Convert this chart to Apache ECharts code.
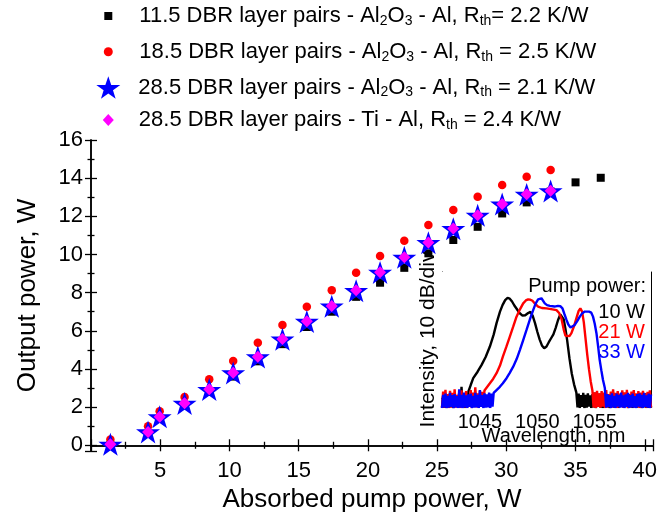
<!DOCTYPE html>
<html>
<head>
<meta charset="utf-8">
<script src="https://cdn.jsdelivr.net/npm/echarts@6/dist/echarts.min.js"></script>
<style>html,body{margin:0;padding:0;background:#fff}#c{width:660px;height:525px}</style>
</head>
<body>
<div id="c"></div>
<script>
// ---------- main plot data ----------
var seriesNames = [
  '11.5 DBR layer pairs - Al2O3 - Al, Rth= 2.2 K/W',
  '18.5 DBR layer pairs - Al2O3 - Al, Rth = 2.5 K/W',
  '28.5 DBR layer pairs - Al2O3 - Al, Rth = 2.1 K/W',
  '28.5 DBR layer pairs - Ti - Al, Rth = 2.4 K/W'
];
var legendLabels = [
  '11.5 DBR layer pairs - Al{s|2}O{s|3} - Al, R{s|th}= 2.2 K/W',
  '18.5 DBR layer pairs - Al{s|2}O{s|3} - Al, R{s|th} = 2.5 K/W',
  '28.5 DBR layer pairs - Al{s|2}O{s|3} - Al, R{s|th} = 2.1 K/W',
  '28.5 DBR layer pairs - Ti - Al, R{s|th} = 2.4 K/W'
];
var absorbedPump = [1.4, 4.12, 4.96, 6.76, 8.54, 10.27, 12.05, 13.83, 15.59, 17.39, 19.15, 20.88, 22.63, 24.37, 26.17, 27.93, 29.7, 31.47, 33.2];
var absorbedPumpBlack = [1.4, 4.12, 4.96, 6.76, 8.54, 10.27, 12.05, 13.83, 15.59, 17.39, 19.15, 20.88, 22.63, 24.37, 26.17, 27.93, 29.7, 31.47, 33.2, 35.0, 36.82];
var power115 = [0.0, 0.6, 1.4, 2.1, 2.8, 3.6, 4.4, 5.3, 6.2, 7.0, 7.78, 8.52, 9.30, 10.06, 10.76, 11.45, 12.15, 12.73, 13.3, 13.78, 14.02];
var power185 = [0.3, 1.0, 1.78, 2.53, 3.46, 4.42, 5.37, 6.30, 7.26, 8.13, 9.04, 9.92, 10.72, 11.54, 12.33, 13.03, 13.64, 14.08, 14.43];
var power285 = [0.05, 0.70, 1.49, 2.19, 2.92, 3.79, 4.63, 5.56, 6.49, 7.29, 8.10, 9.06, 9.85, 10.62, 11.35, 12.05, 12.64, 13.15, 13.33];
var power285Ti = [0.05, 0.70, 1.50, 2.20, 2.93, 3.80, 4.64, 5.57, 6.50, 7.30, 8.12, 9.07, 9.86, 10.63, 11.36, 12.06, 12.65, 13.16, 13.34];
var xTickLabels = ['5', '10', '15', '20', '25', '30', '35', '40'];
var yTickLabels = ['0', '2', '4', '6', '8', '10', '12', '14', '16'];

// ---------- inset spectra (wavelength nm, intensity dB) ----------
var spectrumNames = ['10 W', '21 W', '33 W'];
var noiseStep = 0.1;
var blackNoiseLStart = 1041.7;
var blackNoiseL = [-2.7,0.6,-2.4,1.0,-2.8,0.4,-2.5,1.3,-2.6,0.8,-2.9,1.1,-2.5,0.7,-2.7,1.5,-2.4,3.1,-2.6,1.2,-2.8,0.9,-2.3];
var blackSignal = [[1044.0,1.8],[1044.2,3.6],[1044.42,5.5],[1044.8,7.3],[1045.15,9.2],[1045.5,11.4],[1045.87,14.3],[1046.2,17.6],[1046.45,20.8],[1046.75,24.0],[1046.97,25.8],[1047.2,27.2],[1047.41,27.8],[1047.6,27.6],[1047.8,26.8],[1048.0,25.7],[1048.2,24.8],[1048.45,23.6],[1048.71,22.9],[1048.95,23.0],[1049.2,23.6],[1049.4,23.9],[1049.6,22.8],[1049.8,20.8],[1050.0,18.4],[1050.2,16.3],[1050.4,14.6],[1050.6,13.8],[1050.8,14.3],[1051.0,15.5],[1051.2,16.6],[1051.4,17.7],[1051.6,19.5],[1051.8,21.6],[1052.0,23.2],[1052.15,23.2],[1052.3,21.8],[1052.45,19.2],[1052.6,16.0],[1052.8,11.0],[1053.0,6.8],[1053.2,3.8],[1053.4,1.5]];
var blackNoiseRStart = 1053.5;
var blackNoiseR = [-2.6,1.2,-2.8,0.8,-2.5,1.4,-2.9,0.9,-2.7,1.3,-2.4,0.7,-2.8,1.1,-2.6,1.5,-2.9,0.8,-2.5,1.2,-2.7,0.6,-2.8,1.3,-2.4,0.9,-2.6,1.1,-2.9,0.7,-2.5,1.4,-2.7,0.8,-2.6,1.2,-2.8,0.5,-2.4,1.0,-2.7,1.3,-2.5,0.9,-2.9,1.1,-2.6,0.7,-2.8,1.4,-2.5,0.8,-2.7,1.2,-2.4,0.6,-2.9,1.0,-2.6,1.3,-2.8,0.9,-2.5,1.1,-2.7];

var redNoiseLStart = 1041.7;
var redNoiseL = [-2.5,1.8,-2.7,2.3,-2.4,1.1,-2.8,2.0,-2.6,1.4,-2.3,2.4,-2.7,0.9,-2.5,1.6,-2.8,2.1,-2.4,1.2,-2.6,1.9,-2.7,0.8,-2.5,2.2,-2.8,1.5,-2.4,3.0,-2.6,1.3,-2.7,2.0,-2.5,1.7,-2.3,2.1];
var redSignal = [[1045.5,2.4],[1045.87,4.1],[1046.15,5.3],[1046.45,6.9],[1046.75,9.0],[1047.0,11.5],[1047.3,14.2],[1047.6,17.0],[1047.9,19.8],[1048.19,22.6],[1048.5,24.7],[1048.77,26.3],[1049.0,27.1],[1049.2,27.4],[1049.4,27.3],[1049.58,27.0],[1049.8,26.2],[1050.07,25.4],[1050.4,25.0],[1050.8,24.9],[1051.2,24.7],[1051.67,24.4],[1051.9,23.6],[1052.1,22.1],[1052.3,19.0],[1052.45,17.3],[1052.6,16.9],[1052.8,17.2],[1052.97,18.0],[1053.2,20.0],[1053.4,22.1],[1053.6,24.2],[1053.75,24.9],[1053.9,24.0],[1054.05,21.0],[1054.2,16.5],[1054.35,12.0],[1054.5,8.0],[1054.65,4.6],[1054.8,2.0]];
var redNoiseRStart = 1054.9;
var redNoiseR = [-2.6,1.6,-2.8,2.0,-2.5,1.3,-2.7,1.9,-2.4,1.5,-2.8,2.2,-2.6,1.1,-2.5,1.8,-2.7,2.4,-2.4,1.4,-2.8,1.9,-2.6,1.2,-2.5,2.1,-2.7,1.6,-2.4,2.3,-2.8,1.0,-2.6,1.8,-2.5,2.2,-2.7,1.3,-2.4,1.9,-2.8,1.5,-2.6,2.0,-2.5,1.2,-2.7,1.7,-2.4,2.1,-2.6];

var blueNoiseLStart = 1041.7;
var blueNoiseL = [-2.8,0.9,-2.6,1.2,-2.9,0.6,-2.7,1.4,-2.5,0.8,-2.9,1.1,-2.6,0.5,-2.8,2.4,-2.7,0.9,-2.9,1.5,-2.6,0.7,-2.8,1.0,-2.5,1.2,-2.9,0.6,-2.7,1.4,-2.6,0.9,-2.8,2.2,-2.5,0.8,-2.9,1.3,-2.7,1.0,-2.6,1.5,-2.8,1.2,-2.4];
var blueSignal = [[1046.2,1.4],[1046.45,2.2],[1046.74,3.1],[1047.0,4.1],[1047.32,5.5],[1047.6,7.0],[1047.9,8.7],[1048.2,10.8],[1048.48,13.3],[1048.75,15.9],[1049.06,18.9],[1049.35,21.8],[1049.64,24.4],[1049.85,26.2],[1050.07,27.4],[1050.36,27.7],[1050.65,26.3],[1050.85,25.8],[1051.09,25.6],[1051.5,25.4],[1051.8,25.6],[1052.0,25.5],[1052.19,24.9],[1052.35,23.4],[1052.54,21.7],[1052.7,20.4],[1052.89,19.6],[1053.05,19.7],[1053.26,20.3],[1053.5,21.5],[1053.7,22.6],[1053.9,23.5],[1054.13,24.0],[1054.5,24.0],[1054.7,23.7],[1054.85,22.6],[1055.0,20.6],[1055.15,18.0],[1055.3,14.2],[1055.43,10.6],[1055.58,7.6],[1055.72,5.0],[1055.88,2.8]];
var blueNoiseRStart = 1056.0;
var blueNoiseR = [-2.7,1.1,-2.5,0.8,-2.9,1.3,-2.6,0.6,-2.8,1.2,-2.4,0.9,-2.7,1.5,-2.6,0.7,-2.9,1.0,-2.5,1.4,-2.8,0.8,-2.6,1.2,-2.7,0.5,-2.9,1.1,-2.4,1.3,-2.6,0.9,-2.8,1.4,-2.5,0.7,-2.7,1.2,-2.9,1.0];

function pairs(xs, ys) { return ys.map(function (y, i) { return [xs[i], y]; }); }
function noiseSeg(start, vals) { return vals.map(function (v, i) { return [Math.round((start + i * noiseStep) * 100) / 100, v]; }); }
var blackSpec = noiseSeg(blackNoiseLStart, blackNoiseL).concat(blackSignal, noiseSeg(blackNoiseRStart, blackNoiseR));
var redSpec = noiseSeg(redNoiseLStart, redNoiseL).concat(redSignal, noiseSeg(redNoiseRStart, redNoiseR));
var blueSpec = noiseSeg(blueNoiseLStart, blueNoiseL).concat(blueSignal, noiseSeg(blueNoiseRStart, blueNoiseR));

var FONT = '"Liberation Sans", Arial, sans-serif';
var starPath = 'path://M50,0 L61.8,35.1 L98.1,35.1 L68.8,56.7 L79.4,91 L50,70 L20.6,91 L31.2,56.7 L1.9,35.1 L38.2,35.1 Z';

var chart = echarts.init(document.getElementById('c'), null, { renderer: 'canvas' });

function mainLegend(i, left, top, icon, w, h, pad) {
  return {
    data: [seriesNames[i]], orient: 'vertical', left: left, top: top, padding: 0,
    itemWidth: w, itemHeight: h, icon: icon,
    itemStyle: { opacity: 1 },
    formatter: function (n) { return '{g| }' + legendLabels[seriesNames.indexOf(n)]; },
    textStyle: { fontFamily: FONT, fontSize: 22, color: '#000', lineHeight: 24,
      rich: {
        g: { width: pad, fontSize: 22, lineHeight: 24 },
        s: { fontFamily: FONT, fontSize: 14, lineHeight: 11, verticalAlign: 'bottom', color: '#000' }
      } }
  };
}

var option = {
  animation: false,
  backgroundColor: '#fff',
  textStyle: { fontFamily: FONT },
  title: { text: 'Pump power:', right: 14, top: 276, padding: 0,
    textStyle: { fontFamily: FONT, fontSize: 20, fontWeight: 'normal', color: '#000' } },
  legend: [
    mainLegend(0, 104.3, 4, 'rect', 8, 8, 22),
    mainLegend(1, 103.8, 39.7, 'circle', 9, 9, 21.5),
    mainLegend(2, 96.3, 75.5, starPath, 24, 23, 13),
    mainLegend(3, 102.8, 108, 'diamond', 11, 12, 20),
    {
      data: [
        { name: spectrumNames[0], textStyle: { color: '#000' } },
        { name: spectrumNames[1], textStyle: { color: '#ff0000' } },
        { name: spectrumNames[2], textStyle: { color: '#0000ff' } }
      ],
      orient: 'vertical', right: 9, top: 302, padding: 0, itemGap: 0,
      itemWidth: 1, itemHeight: 1, align: 'right', icon: 'rect',
      itemStyle: { opacity: 0 }, lineStyle: { opacity: 0 },
      textStyle: { fontFamily: FONT, fontSize: 20, lineHeight: 19.5 }
    }
  ],
  grid: [
    { left: 91, right: 6, top: 140, bottom: 74 },
    { left: 442, right: 9, top: 272, bottom: 118, show: true, backgroundColor: '#fff', borderWidth: 0, z: 3 }
  ],
  xAxis: [
    { type: 'value', gridIndex: 0, position: 'bottom', min: 0, max: 40.6, interval: 5,
      axisLine: { show: true, lineStyle: { color: '#000', width: 1.5 } },
      axisTick: { show: true, inside: true, length: 6, lineStyle: { color: '#000', width: 1.3 } },
      minorTick: { show: true, splitNumber: 2, length: 3.5, lineStyle: { color: '#000', width: 1.3 } },
      splitLine: { show: false },
      axisLabel: { show: true, color: '#000', fontSize: 22, fontFamily: FONT, margin: 9,
        formatter: function (v) { var s = String(Math.round(v)); return (Math.abs(v - Math.round(v)) < 1e-6 && xTickLabels.indexOf(s) >= 0) ? s : ''; } },
      name: 'Absorbed pump power, W', nameLocation: 'middle', nameGap: 30,
      nameTextStyle: { color: '#000', fontSize: 26, fontFamily: FONT } },
    { type: 'value', gridIndex: 0, position: 'top', min: 0, max: 40.6, interval: 5,
      axisLine: { show: true, lineStyle: { color: '#000', width: 1.5 } },
      axisTick: { show: true, inside: true, length: 6, lineStyle: { color: '#000', width: 1.3 } },
      minorTick: { show: true, splitNumber: 2, length: 3.5, lineStyle: { color: '#000', width: 1.3 } },
      splitLine: { show: false }, axisLabel: { show: false } },
    { type: 'value', gridIndex: 1, position: 'bottom', min: 1041.7, max: 1059.9, splitNumber: 4,
      axisLine: { show: true, lineStyle: { color: '#000', width: 1 } },
      axisTick: { show: true, inside: true, length: 5, lineStyle: { color: '#000', width: 1 } },
      minorTick: { show: true, splitNumber: 2, length: 3, lineStyle: { color: '#000', width: 1 } },
      splitLine: { show: false },
      axisLabel: { show: true, color: '#000', fontSize: 20, fontFamily: FONT, margin: 5,
        formatter: function (v) { return (Math.abs(v % 5) < 1e-6) ? String(v) : ''; } },
      name: 'Wavelength, nm', nameLocation: 'middle', nameGap: 19, nameMoveOverlap: false,
      nameTextStyle: { color: '#000', fontSize: 20, fontFamily: FONT, padding: [0, 0, 0, 14] } },
    { type: 'value', gridIndex: 1, position: 'top', min: 1041.7, max: 1059.9, splitNumber: 4,
      axisLine: { show: true, lineStyle: { color: '#000', width: 1 } },
      axisTick: { show: true, inside: true, length: 5, lineStyle: { color: '#000', width: 1 } },
      minorTick: { show: true, splitNumber: 2, length: 3, lineStyle: { color: '#000', width: 1 } },
      splitLine: { show: false }, axisLabel: { show: false } }
  ],
  yAxis: [
    { type: 'value', gridIndex: 0, position: 'left', min: -0.3, max: 16, splitNumber: 8,
      axisLine: { show: true, lineStyle: { color: '#000', width: 1.5 } },
      axisTick: { show: true, inside: true, length: 6, lineStyle: { color: '#000', width: 1.3 } },
      minorTick: { show: true, splitNumber: 2, length: 3.5, lineStyle: { color: '#000', width: 1.3 } },
      splitLine: { show: false },
      axisLabel: { show: true, color: '#000', fontSize: 22, fontFamily: FONT, margin: 8,
        formatter: function (v) { var s = String(Math.round(v)); return (Math.abs(v - Math.round(v)) < 1e-6 && yTickLabels.indexOf(s) >= 0) ? s : ''; } },
      name: 'Output power, W', nameLocation: 'middle', nameGap: 50,
      nameTextStyle: { color: '#000', fontSize: 26, fontFamily: FONT } },
    { type: 'value', gridIndex: 0, position: 'right', min: -0.3, max: 16, splitNumber: 8,
      axisLine: { show: true, lineStyle: { color: '#000', width: 1.5 } },
      axisTick: { show: true, inside: true, length: 6, lineStyle: { color: '#000', width: 1.3 } },
      minorTick: { show: true, splitNumber: 2, length: 3.5, lineStyle: { color: '#000', width: 1.3 } },
      splitLine: { show: false }, axisLabel: { show: false } },
    { type: 'value', gridIndex: 1, position: 'left', min: -2.5, max: 35, splitNumber: 4,
      axisLine: { show: true, lineStyle: { color: '#000', width: 1 } },
      axisTick: { show: true, inside: true, length: 5, lineStyle: { color: '#000', width: 1 } },
      minorTick: { show: true, splitNumber: 2, length: 3, lineStyle: { color: '#000', width: 1 } },
      splitLine: { show: false }, axisLabel: { show: false },
      name: 'Intensity, 10 dB/div', nameLocation: 'middle', nameGap: 3,
      nameTextStyle: { color: '#000', fontSize: 21, fontFamily: FONT } },
    { type: 'value', gridIndex: 1, position: 'right', min: -2.5, max: 35, splitNumber: 4,
      axisLine: { show: true, lineStyle: { color: '#000', width: 1 } },
      axisTick: { show: true, inside: true, length: 5, lineStyle: { color: '#000', width: 1 } },
      minorTick: { show: true, splitNumber: 2, length: 3, lineStyle: { color: '#000', width: 1 } },
      splitLine: { show: false }, axisLabel: { show: false } }
  ],
  series: [
    { name: seriesNames[0], type: 'scatter', xAxisIndex: 0, yAxisIndex: 0, symbol: 'rect', symbolSize: 8,
      itemStyle: { color: '#000', opacity: 1 }, data: pairs(absorbedPumpBlack, power115), z: 2 },
    { name: seriesNames[1], type: 'scatter', xAxisIndex: 0, yAxisIndex: 0, symbol: 'circle', symbolSize: 8.5,
      itemStyle: { color: '#ff0000', opacity: 1 }, data: pairs(absorbedPump, power185), z: 3 },
    { name: seriesNames[2], type: 'scatter', xAxisIndex: 0, yAxisIndex: 0, symbol: starPath, symbolSize: [24, 23],
      itemStyle: { color: '#0000ff', opacity: 1 }, data: pairs(absorbedPump, power285), z: 4 },
    { name: seriesNames[3], type: 'scatter', xAxisIndex: 0, yAxisIndex: 0, symbol: 'diamond', symbolSize: [12, 12],
      itemStyle: { color: '#ff00ff', opacity: 1 }, data: pairs(absorbedPump, power285Ti), z: 5 },
    { name: spectrumNames[0], type: 'line', xAxisIndex: 2, yAxisIndex: 2, showSymbol: false, clip: true,
      lineStyle: { color: '#000', width: 2.4 }, itemStyle: { color: '#000' }, data: blackSpec, z: 6 },
    { name: spectrumNames[1], type: 'line', xAxisIndex: 2, yAxisIndex: 2, showSymbol: false, clip: true,
      lineStyle: { color: '#ff0000', width: 2.4 }, itemStyle: { color: '#ff0000' }, data: redSpec, z: 7 },
    { name: spectrumNames[2], type: 'line', xAxisIndex: 2, yAxisIndex: 2, showSymbol: false, clip: true,
      lineStyle: { color: '#0000ff', width: 2.4 }, itemStyle: { color: '#0000ff' }, data: blueSpec, z: 8 }
  ]
};
chart.setOption(option);
</script>
</body>
</html>
